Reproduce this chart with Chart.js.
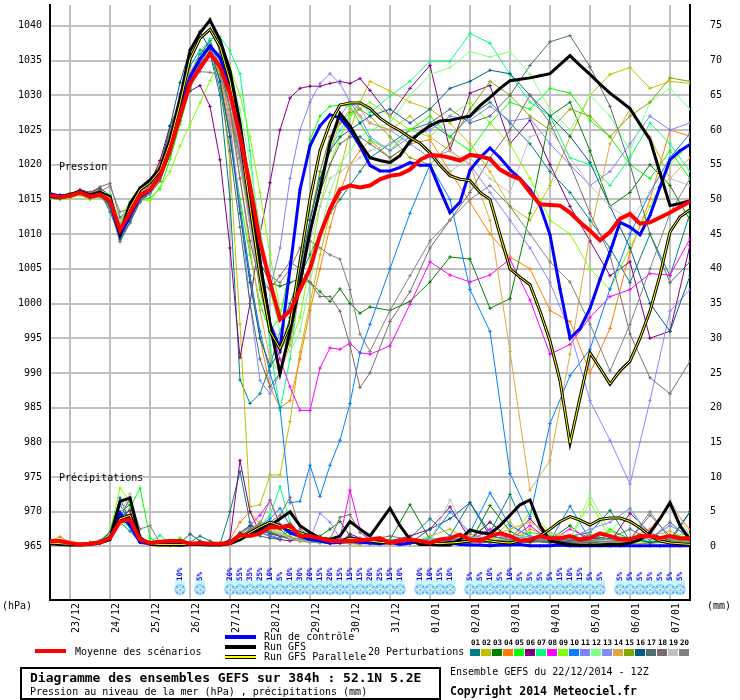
<!DOCTYPE html>
<html>
<head>
<meta charset="utf-8">
<script src="https://cdn.jsdelivr.net/npm/chart.js@4.4.1/dist/chart.umd.min.js"></script>
<style>
body { margin: 0; background: #fff; }
#wrap { position: relative; width: 740px; height: 700px; font-family: "DejaVu Sans Mono", monospace; font-size: 10px; color: #000; }
#wrap canvas { position: absolute; left: 0; top: 0; }
.t { position: absolute; white-space: pre; line-height: 12px; }
.bar { position: absolute; width: 31px; height: 4px; }
.num { position: absolute; top: 638px; width: 11px; text-align: center; font-size: 7.5px; font-weight: bold; line-height: 9px; }
.sw { position: absolute; top: 649px; width: 10px; height: 7px; }
#box { position: absolute; left: 20px; top: 667px; width: 421px; height: 33px; box-sizing: border-box; border: 2px solid #000; }
#warn { position: absolute; left: 300px; top: 300px; color: red; font-size: 14px; }
</style>
</head>
<body>
<div id="wrap">
  <canvas id="gefs" width="740" height="700"></canvas>
  <div class="t" style="left:59px;top:161px;">Pression</div>
  <div class="t" style="left:59px;top:472px;">Précipitations</div>
  <div class="t" style="left:2px;top:600px;">(hPa)</div>
  <div class="t" style="left:707px;top:600px;">(mm)</div>

  <div class="bar" style="left:35px;top:649px;background:#ff0000;"></div>
  <div class="t" style="left:75px;top:646px;">Moyenne des scénarios</div>
  <div class="bar" style="left:225px;top:635px;background:#0000ff;"></div>
  <div class="t" style="left:264px;top:631px;">Run de contrôle</div>
  <div class="bar" style="left:225px;top:645px;background:#000;"></div>
  <div class="t" style="left:264px;top:641px;">Run GFS</div>
  <div class="bar" style="left:225px;top:655px;background:#000;"><div style="position:absolute;left:0;top:1px;width:31px;height:2px;background:#ffff00;"></div></div>
  <div class="t" style="left:264px;top:651px;">Run GFS Parallele</div>
  <div class="t" style="left:368px;top:646px;">20 Perturbations</div>
  <div id="legendSwatches"></div>

  <div id="box"></div>
  <div class="t" style="left:30px;top:670px;font-size:13px;font-weight:bold;line-height:15px;">Diagramme des ensembles GEFS sur 384h : 52.1N 5.2E</div>
  <div class="t" style="left:30px;top:686px;">Pression au niveau de la mer (hPa) , précipitations (mm)</div>
  <div class="t" style="left:450px;top:666px;">Ensemble GEFS du 22/12/2014 - 12Z</div>
  <div class="t" style="left:450px;top:684px;font-size:11.5px;font-weight:bold;line-height:14px;">Copyright 2014 Meteociel.fr</div>
  <div id="warn"></div>
</div>
<script>
// time axis (hours after 22/12/2014 12Z)
const hours6 = [0,6,12,18,24,30,36,42,48,54,60,66,72,78,84,90,96,102,108,114,120,126,132,138,144,150,156,162,168,174,180,186,192,
  198,204,210,216,222,228,234,240,246,252,258,264,270,276,282,288,294,300,306,312,318,324,330,336,342,348,354,360,366,372,378,384];
const memberHours = [0,6,12,18,24,30,36,42,48,54,60,66,72,78,84,90,96,102,108,114,120,126,132,138,144,150,156,162,168,174,180,186,192,
  204,216,228,240,252,264,276,288,300,312,324,336,348,360,372,384];

const dateHours = [12,36,60,84,108,132,156,180,204,228,252,276,300,324,348,372];
const dateLabels = ['23/12','24/12','25/12','26/12','27/12','28/12','29/12','30/12','31/12','01/01','02/01','03/01','04/01','05/01','06/01','07/01'];
const pressureTicks = [965,970,975,980,985,990,995,1000,1005,1010,1015,1020,1025,1030,1035,1040];
const precipTicks = [0,5,10,15,20,25,30,35,40,45,50,55,60,65,70,75];
const yMin = 957.29, yMax = 1043.0, precipZero = 965;

// mean of scenarios
const meanPressure = [1015.6,1015.3,1015.5,1016.0,1015.4,1015.7,1014.8,1010.6,1013.1,1015.6,1016.4,1018.4,1022.1,1027.0,1031.7,1033.9,1036.0,
  1034.1,1030.3,1024.1,1017.0,1008.9,1003.1,997.7,998.9,1002.0,1005.0,1009.9,1013.6,1016.4,1017.0,1016.7,1017.0,
  1017.9,1018.4,1018.6,1019.3,1020.7,1021.4,1021.3,1021.0,1020.6,1021.4,1021.2,1020.8,1019.3,1018.5,1017.9,1016.0,1014.3,1014.2,1014.1,1013.1,1011.7,1010.5,1009.1,1010.3,1012.2,1012.9,1011.5,1011.7,1012.4,1013.1,1013.9,1014.7];
const meanPrecip = [0.8,0.8,0.5,0.3,0.4,0.6,1.2,3.6,3.9,1.0,0.5,0.7,0.8,0.8,0.4,0.5,0.4,
  0.4,0.5,1.7,1.5,1.9,2.8,2.7,3.1,1.5,1.5,1.2,0.8,0.8,0.8,0.9,1.0,
  1.2,0.5,0.8,1.0,0.8,0.5,1.0,1.2,1.7,1.0,0.8,1.5,1.9,1.5,0.8,1.0,1.5,1.2,1.2,1.5,1.0,1.2,1.9,1.5,1.0,1.0,1.5,1.5,1.2,1.5,1.2,1.2];

// control run
const ctrlPressure = [1015.8,1015.5,1015.6,1016.1,1015.5,1015.8,1014.6,1009.8,1012.6,1015.3,1016.3,1018.5,1022.6,1027.8,1032.6,1035.2,1037.1,
  1035.4,1031,1024.5,1015.5,1006,997,993.5,1005,1016.4,1022.7,1025.6,1027.2,1026.7,1025,1022.7,1019.9,
  1019.1,1019.1,1019.6,1020.3,1019.9,1019.9,1016.4,1013.1,1014.6,1019.2,1021,1022.4,1021,1019.3,1018,1016.4,1014.1,1009.9,1002.1,995,996.4,999.3,1003.5,1007.4,1011.7,1011,1009.9,1012.7,1016.8,1020.7,1022,1022.9];
const ctrlPrecip = [0.6,0.5,0.3,0.3,0.4,0.6,1.2,4.8,3.0,0.6,0.4,0.3,0.3,0.2,0.3,0.4,0.3,
  0.3,0.5,1.2,1.8,2.4,3.4,3.0,2.0,1.5,1.0,0.8,0.5,0.6,0.8,0.6,0.5,
  0.4,0.6,0.3,0.5,0.8,0.4,0.3,0.6,0.3,0.2,0.2,0.1,0.2,0.2,0.3,0.1,0.1,0.1,0.2,0.1,0.1,0.1,0.1,0.1,0.1,0.1,0.1,0.1,0.1,0.1,0.1,0.1];

// GFS operational run
const gfsPressure = [1015.4,1015.2,1015.6,1016.2,1015.6,1016.0,1015.4,1010.0,1014.4,1016.6,1017.8,1019.4,1023.6,1029.4,1036.4,1039.0,1040.8,
  1038,1033.5,1026,1016,1006,997,989.9,996,1003,1010.3,1016.4,1023.1,1027.4,1025.6,1023.1,1021,
  1020.6,1020.3,1021.3,1023.4,1024.6,1025.6,1026.3,1026.4,1026.7,1027,1028.5,1029.7,1031,1032.1,1032.3,1032.5,1032.8,1033.1,1034.4,1035.7,1034.3,1033,1031.6,1030.3,1029.2,1028.1,1025.8,1023.6,1018.8,1014.1,1014.4,1014.8];
const gfsPrecip = [0.4,0.3,0.2,0.2,0.3,0.5,1.0,6.5,7.0,1.2,0.3,0.2,0.2,0.2,0.3,0.3,0.2,
  0.2,0.4,1.0,1.8,2.2,3.0,4.0,5.0,3.0,2.0,1.2,1.0,1.5,3.6,2.5,1.5,
  3.5,5.5,3.0,1.0,0.3,0.3,0.2,0.2,1.0,2.4,2.0,1.8,3.0,4.5,6.0,6.7,3.0,0.8,0.5,0.3,0.2,0.2,0.2,0.3,0.3,0.5,1.0,2.0,4.0,6.3,3.0,1.0];

// GFS parallel run
const parPressure = [1015.5,1015.3,1015.7,1016.1,1015.5,1015.9,1015.2,1010.4,1013.8,1016.4,1017.4,1019.2,1023.2,1028.8,1035.2,1038.2,1039.5,
  1037,1032,1024,1014,1004,996,993.5,997,1006,1015,1022,1026,1028.6,1028.9,1028.9,1028.1,
  1026.7,1025.7,1024.9,1023.9,1023.1,1021.7,1019.9,1018.4,1017.9,1017.7,1016,1015,1009.9,1005,1003.8,1002.7,998.9,994.6,988.9,979.9,986.4,992.9,990.7,988.4,990.3,991.7,995,998.9,1004.1,1010.3,1012.5,1013.5];
const parPrecip = [0.5,0.4,0.3,0.3,0.4,0.6,1.3,4.0,4.5,1.0,0.4,0.3,0.3,0.3,0.3,0.3,0.3,
  0.3,0.6,1.2,2.0,2.8,3.5,3.0,2.5,2.0,1.5,1.2,1.0,0.8,1.2,1.0,0.8,
  0.6,0.5,0.8,1.0,0.6,0.5,0.4,0.5,0.6,0.8,1.0,0.8,0.6,0.5,0.8,0.8,1.5,2.5,3.6,4.3,3.8,3.1,3.9,4.1,4.1,3.6,2.7,1.5,0.8,0.5,0.4,0.3];

// 20 perturbations (pressure, hPa)
const p01 = [1015.2,1015.0,1015.6,1016.3,1015.8,1016.1,1013.2,1009.6,1012.4,1015.0,1016.0,1018.8,1023.5,1029.8,1034.2,1036.5,1036.0, 1030,1015,989,985.6,987,991,996,1000,1004,1007,1010,1013,1015,1017,1019,1021, 1023,1025,1026,1024,1027,1029,1026,1023,1019,1016,1012,1008,1003,1010,1004,1013];
const p02 = [1015.8,1015.6,1015.9,1016.2,1015.9,1016.4,1015.5,1011.4,1014.0,1016.3,1017.8,1019.9,1023.4,1028.0,1032.5,1035.3,1037.2, 1033,1020,997,970.7,971,975.3,975.3,983,993,1000,1007,1013,1019,1025,1029,1032, 1030.6,1029,1028,1026,1023,1019,1014,1012,1017,1024,1030,1033,1034,1031,1032,1031.7];
const p03 = [1015.4,1015.2,1015.4,1015.8,1015.1,1015.5,1014.1,1010.2,1012.8,1015.3,1016.1,1018.0,1022.5,1027.8,1032.8,1035.8,1037.9, 1034,1028,1020,1012,1006,1003,1002.5,1003,1003.6,1003.1,1001.7,1000.3,1002.1,1000,998.6,999.5, 999,1000.3,1003.1,1006.7,1006.4,999.3,1000.7,1013,1027,1029,1022,1014,1016,1020,1017,1012];
const p04 = [1015.7,1015.5,1015.8,1016.1,1015.6,1016.0,1015.2,1011.0,1013.6,1016.2,1017.6,1020.4,1024.8,1029.0,1033.0,1035.0,1036.4, 1033,1025,1014,1004,995,988,985,986,992,999,1005,1011,1016,1020,1022,1023.5, 1021,1023,1023.6,1019,1014.6,1010,1006.7,1005,999,997.4,990,996.4,1007.4,1015,1025,1024.1];
const p05 = [1015.3,1015.1,1015.4,1015.9,1015.2,1015.6,1014.6,1009.9,1012.5,1014.8,1015.2,1016.5,1020.8,1025.8,1030.9,1034.6,1037.5, 1032,1024,1015,1007,1000,996,998,1005,1016,1023.6,1027,1028.4,1028.6,1028.4,1026,1023.6, 1022,1025,1027,1024,1022,1026,1029,1028,1031,1030.3,1026.4,1024,1020,1018,1022,1018];
const p06 = [1015.9,1015.6,1015.7,1016.4,1016.0,1016.6,1015.6,1010.8,1013.4,1016.0,1017.2,1020.6,1025.6,1028.8,1030.6,1031.4,1028.4, 1020.7,1008,992.2,1000,1010,1017.4,1025,1029.6,1031,1031.3,1031.3,1031.7,1032,1031.7,1032.4,1030.7, 1027,1031,1034.3,1022.1,1030.3,1031.4,1023,1026.4,1020,1014,1009,1004,1006,995,996,1008.4];
const p07 = [1015.5,1015.4,1015.7,1016.2,1015.5,1015.9,1015.0,1011.6,1014.2,1016.5,1017.3,1019.4,1023.0,1028.2,1032.9,1036.2,1038.1, 1038.4,1036.4,1033.1,1022,1008,994,984.6,992,1003,1012,1018,1022,1025,1027,1029,1027.5, 1029.9,1032,1034.9,1034.9,1038.9,1037.5,1033,1029,1027,1021,1020,1017,1021,1026,1023,1019];
const p08 = [1015.6,1015.2,1015.5,1016.1,1015.3,1015.8,1014.7,1010.5,1013.0,1015.5,1016.6,1018.6,1022.6,1027.5,1032.0,1034.7,1036.8, 1034,1029,1021,1012,1004,997,992,988,984.6,984.6,990.7,993.6,993.4,994.3,992.9,992.7, 993.9,999.9,1006,1004.1,1003.1,1004.1,1006.4,1000.5,992.7,994.1,998,1001,1002,1004.3,1004.1,1009.3];
const p09 = [1015.2,1015.0,1015.2,1015.6,1015.0,1015.4,1015.4,1012.2,1014.7,1015.0,1014.8,1016.8,1019.0,1022.7,1025.8,1028.9,1032.1, 1035,1034,1030,1024,1016,1007,999,994,998,1006,1014,1020,1024,1027,1028,1029, 1027,1025,1024,1027,1029,1026,1023,1018,1012,1010,1005,1002,1008,1014,1020,1023];
const p10 = [1015.8,1015.5,1015.6,1016.0,1015.6,1015.9,1014.9,1010.1,1012.6,1015.4,1016.5,1018.9,1023.3,1028.6,1033.2,1035.9,1037.2, 1032,1024,1014,1004,996,990,985,971.3,971.5,976.7,972.2,976.7,980.3,985.6,992.9,997, 1005,1013,1020,1015,1002,996,975.5,969.3,982.7,989.6,993.4,1002.1,1010,1016,1021,1024.5];
const p11 = [1015.4,1015.3,1015.5,1015.9,1015.3,1015.6,1014.3,1009.8,1012.2,1015.1,1016.2,1018.0,1021.8,1026.8,1031.6,1034.8,1036.6, 1036,1031,1022,1012,1004,1002,1008,1018,1025,1029,1031.7,1033.1,1031.7,1029,1027,1024, 1022,1024,1025,1027,1026.4,1028.4,1026.3,1026.7,1023,1020,1017,1019,1023,1027,1025,1026];
const p12 = [1015.7,1015.4,1015.8,1016.3,1015.7,1016.2,1015.8,1012.0,1014.4,1016.8,1017.5,1019.0,1022.2,1027.0,1031.0,1034.0,1036.8, 1036,1033,1028,1020,1011,1002,996,993,996,1003,1010,1016,1020,1022,1024,1025, 1026,1030,1033,1034,1036.3,1035.5,1036.3,1033,1028,1025,1030,1027,1022,1029,1031,1028];
const p13 = [1015.5,1015.3,1015.6,1016.0,1015.4,1015.8,1014.6,1010.3,1012.9,1015.7,1016.8,1018.7,1022.9,1027.6,1032.4,1035.4,1037.5, 1034,1026,1014,1000,988.9,987,990,996,1004,1012,1019,1024,1027,1029,1028,1026, 1025,1023,1021,1022,1020,1016,1012,1008,1003,996,986,980.3,974,986,998.9,1002];
const p14 = [1015.6,1015.4,1015.7,1016.1,1015.5,1015.9,1015.1,1011.2,1013.8,1016.1,1017.0,1019.4,1023.8,1028.8,1033.4,1035.6,1036.3, 1033,1027,1018,1008,999,992,990,994,1002,1010,1017,1022,1026,1028,1027,1026, 1025,1027,1024,1022,1020,1012,993.1,973.1,977.4,992.7,1010,1023,1028,1024,1018,1021];
const p15 = [1015.3,1015.1,1015.3,1015.7,1015.1,1015.4,1014.2,1009.6,1012.1,1014.9,1016.0,1017.8,1021.4,1026.2,1031.0,1034.3,1035.8, 1035,1030,1021,1011,1002,996,993,996,1003,1012,1019,1024,1026,1027.5,1028,1027, 1024,1021,1020,1023,1028,1032,1030,1027,1025,1028,1027,1024,1027,1029,1032.5,1032];
const p16 = [1015.8,1015.6,1015.8,1016.2,1015.8,1016.3,1014.0,1009.2,1011.8,1014.6,1016.1,1019.5,1025.5,1031.8,1036.6,1039.2,1036.6, 1032,1024,1013,1003,995,991,993,998,1005,1012,1018,1022,1024,1025,1026,1027, 1028,1026,1028,1031,1032,1033.6,1033.1,1030,1027,1024.1,1020.3,1014,1008,1000,996,1004];
const p17 = [1015.4,1015.2,1015.4,1015.8,1015.2,1015.5,1013.8,1008.9,1011.6,1014.7,1015.8,1017.6,1021.6,1026.4,1031.2,1034.6,1036.2, 1031,1022,1011,1000,992,988,990,995,1002,1010,1016,1020,1023,1024,1024,1023, 1021,1023,1026,1028,1026,1027,1030,1034.3,1037.7,1038.6,1034.1,1028.4,1020,1010,1003,1006];
const p18 = [1015.7,1015.5,1015.8,1016.3,1016.0,1016.8,1017.3,1012.4,1013.4,1015.8,1017.0,1019.6,1024.6,1030.2,1035.0,1039.0,1041.0, 1036,1028,1018,1009,1003,1002,1004,1006,1005,1003,1001,1001,998.9,994,987.9,990, 997.4,1001.7,1008,1012,1016,1021,1025,1030,1026,1020,1013,1007,995.6,989.3,987,991.7];
const p19 = [1015.5,1015.3,1015.6,1016.0,1015.4,1015.7,1014.9,1011.8,1014.6,1016.4,1017.2,1019.2,1023.0,1027.8,1032.2,1035.2,1036.9, 1035,1029,1020,1011,1003,997,995,997,1003,1009,1014,1018,1019,1020,1021,1022, 1023,1024,1022,1019,1021,1018,1016,1024,1025,1021,1017,1014,1012,1016,1018,1017];
const p20 = [1015.6,1015.4,1015.6,1016.2,1015.6,1016.1,1016.9,1013.2,1013.6,1014.8,1016.0,1018.1,1022.4,1027.9,1033.0,1033.4,1033.3, 1033,1028,1021,1013,1007,1004,1003,1005,1008,1009,1008,1007,1006.4,1002,995.6,993.1, 999,1004,1009,1012,1015,1017,1014,1010,1006,1003.1,997,990.3,997,1005,1013,1018];

// 20 perturbations (precipitation, mm)
const r01 = [0.6,0.5,0.3,0.2,0.5,0.8,1.5,3.5,2.2,0.6,0.3,0.5,0.8,0.3,0.6,1.5,0.8,0.3,5.0,10.8,3.5,1.5,1.2,1.0,2.5,1.8,1.0,0.6,0.4,0.8,1.5,1.0,0.8, 0.5,1.2,4.0,1.5,6.3,2.0,7.5,1.0,0.6,1.5,2.0,5.2,0.8,1.2,0.6,5.0];
const r02 = [0.5,0.4,0.2,0.3,0.4,0.6,2.0,4.5,3.0,0.8,0.4,0.2,0.1,0.2,0.3,0.5,0.4,0.2,0.6,1.8,3.0,2.5,2.0,1.5,1.0,0.8,0.6,0.9,1.2,0.6,0.4,0.3,0.5, 0.8,0.4,1.5,2.5,0.8,1.0,3.5,0.5,1.0,0.6,1.8,0.9,0.5,1.5,2.2,0.8];
const r03 = [0.4,0.3,0.2,0.2,0.4,0.5,1.6,5.0,6.0,1.2,0.5,0.3,0.2,0.2,0.3,0.4,0.3,0.4,0.8,1.5,2.0,3.5,2.8,2.5,1.2,1.0,0.8,1.5,2.5,3.6,1.5,0.8,0.6, 1.0,6.0,1.0,0.7,0.5,5.9,2.2,0.8,1.0,3.0,0.6,0.4,0.8,1.2,0.5,0.4];
const r04 = [0.8,1.4,0.6,0.3,0.4,0.5,1.2,3.2,4.6,1.0,0.5,0.6,0.4,0.3,0.4,0.6,0.5,0.4,1.0,3.5,5.0,3.2,2.0,1.5,1.0,0.8,1.2,0.9,0.6,0.5,0.8,1.0,0.4, 0.6,0.8,0.5,1.2,1.8,1.0,0.6,2.5,1.5,0.8,1.0,2.2,1.2,2.5,6.0,2.4];
const r05 = [0.6,0.4,0.3,0.4,0.6,0.8,1.8,4.0,5.5,8.4,1.2,0.6,0.5,1.2,0.4,0.3,0.3,0.5,0.6,1.2,2.5,3.0,2.0,1.6,1.2,0.9,1.5,1.0,0.6,0.5,0.7,0.5,0.6, 1.0,0.5,0.8,0.6,1.2,3.5,0.8,2.0,1.6,1.0,0.5,2.5,1.0,0.6,1.5,1.8];
const r06 = [0.5,0.3,0.2,0.3,0.5,0.7,1.4,4.2,5.2,1.0,0.4,0.3,0.4,0.5,0.3,0.5,0.4,0.3,1.0,12.4,5.0,2.0,1.5,1.0,0.8,1.2,2.0,1.0,0.6,0.5,1.8,1.2,0.6, 0.8,1.5,2.5,5.7,1.0,3.5,1.2,4.0,0.8,1.0,1.5,0.6,4.8,2.0,0.8,1.5];
const r07 = [0.7,0.5,0.4,0.3,0.5,0.6,1.5,3.8,2.8,0.9,0.6,1.6,0.5,0.4,0.3,0.4,0.3,0.2,0.4,1.0,2.2,3.0,4.5,8.6,3.5,1.5,1.0,0.8,0.5,0.6,0.9,0.7,0.5, 0.6,0.8,1.2,1.0,0.7,1.5,0.9,0.6,1.5,1.2,0.8,1.2,0.6,1.0,0.8,0.7];
const r08 = [0.5,0.4,0.3,0.3,0.4,0.6,1.3,3.6,4.2,1.0,0.5,0.4,0.3,0.3,0.3,0.4,0.3,0.3,0.6,1.5,3.0,4.5,6.6,3.2,2.0,1.5,1.2,0.8,0.6,1.2,8.1,2.5,0.9, 0.8,1.0,0.6,1.2,0.8,2.5,1.0,3.0,0.8,2.5,1.2,0.6,1.0,0.5,0.8,0.6];
const r09 = [0.6,0.5,0.3,0.4,0.6,0.9,2.2,8.4,6.5,1.5,0.6,0.4,0.3,0.2,0.3,0.4,0.3,0.3,0.5,0.9,1.5,2.2,2.8,2.0,1.5,1.0,0.8,0.6,0.5,0.4,0.6,0.8,0.5, 0.4,0.6,0.5,0.8,1.0,1.2,0.8,5.0,2.0,1.0,6.4,1.2,0.8,0.6,1.0,0.8];
const r10 = [0.5,0.4,0.3,0.3,0.5,0.7,2.0,6.0,3.5,0.8,0.4,0.3,0.2,0.3,0.4,0.3,0.3,0.3,0.5,1.2,2.0,3.0,4.0,5.5,3.0,2.0,1.5,1.0,0.8,0.6,0.5,0.6,0.8, 0.6,0.8,1.0,5.0,2.0,7.7,3.0,1.5,0.8,5.8,1.0,0.8,1.2,0.6,0.5,0.4];
const r11 = [0.6,0.4,0.3,0.3,0.5,0.8,1.6,4.4,3.6,0.9,0.5,0.3,0.3,0.4,0.3,0.4,0.5,0.3,0.8,1.6,2.8,2.0,1.6,1.2,3.2,1.5,1.0,0.7,0.5,0.6,0.4,0.5,0.4, 0.5,0.7,0.9,0.6,0.5,0.8,1.2,1.0,0.6,0.8,1.5,1.0,0.8,1.2,3.0,1.5];
const r12 = [0.5,0.4,0.3,0.3,0.5,0.7,1.5,3.2,3.8,1.0,0.5,0.4,0.3,0.3,0.4,0.5,0.4,0.4,0.7,1.4,2.2,3.6,2.4,1.8,1.2,0.9,0.7,0.6,0.5,0.6,0.8,0.7,0.5, 0.7,0.9,0.6,1.0,1.4,0.8,1.6,1.2,2.0,1.0,7.4,2.0,5.5,1.0,0.8,0.6];
const r13 = [0.6,0.5,0.3,0.3,0.4,0.6,1.4,4.8,3.2,0.8,0.4,0.3,0.3,0.3,0.3,0.4,0.3,0.3,0.6,1.2,2.6,3.4,2.2,1.6,1.0,1.2,1.0,4.8,3.5,1.2,0.6,0.5,0.4, 0.6,0.5,1.0,0.8,1.2,2.0,1.0,1.5,0.8,1.2,2.5,3.5,5.5,1.5,1.0,0.8];
const r14 = [0.5,0.4,0.3,0.3,0.5,0.7,1.6,3.6,4.4,1.2,0.5,0.3,0.3,0.4,0.3,0.4,0.3,0.3,0.6,1.5,2.5,3.5,2.6,1.8,1.4,1.0,0.8,0.6,0.5,0.5,0.7,1.2,0.5, 0.5,0.6,0.8,1.0,0.8,1.5,2.5,3.5,2.0,1.0,0.8,0.6,1.2,1.0,0.8,1.5];
const r15 = [0.5,0.4,0.3,0.3,0.5,0.6,1.5,4.0,3.0,0.9,0.4,0.3,0.3,0.3,0.3,0.4,0.3,0.3,0.5,1.3,2.4,3.0,2.2,1.6,1.2,0.8,0.6,0.5,0.8,0.6,0.5,0.4,0.6, 0.4,0.5,0.6,0.8,0.5,0.7,1.0,0.8,0.6,0.5,1.0,0.6,0.5,0.4,0.8,0.6];
const r16 = [0.6,0.5,0.3,0.3,0.5,0.8,2.0,7.0,3.5,0.8,0.4,0.3,0.3,0.5,1.8,0.8,0.4,0.3,0.8,2.0,3.0,2.4,1.8,1.5,1.2,0.9,0.7,0.6,0.5,0.6,0.8,0.6,0.5, 0.6,0.5,2.5,4.0,6.3,1.5,1.0,0.8,0.6,0.8,1.0,1.5,1.2,0.6,1.0,5.0];
const r17 = [0.5,0.4,0.3,0.3,0.4,0.6,1.4,3.8,3.2,0.9,0.4,0.3,0.3,0.3,0.3,0.4,0.3,0.3,0.6,1.4,2.4,2.8,2.0,1.6,1.2,1.0,0.8,0.7,0.6,0.5,0.6,0.5,0.4, 0.5,0.8,0.6,1.0,0.8,0.5,0.6,0.8,0.5,0.6,0.8,1.2,2.5,1.0,3.5,1.0];
const r18 = [0.5,0.4,0.3,0.3,0.4,0.6,1.6,4.0,7.1,1.5,0.5,0.3,0.3,0.3,0.3,0.4,0.3,0.3,0.6,1.2,2.0,2.6,3.5,4.5,7.1,2.5,1.5,1.2,1.0,4.2,4.6,2.0,1.0, 1.5,1.0,0.8,1.0,1.2,0.8,1.0,0.6,0.8,0.5,0.6,0.8,1.0,4.5,1.5,0.8];
const r19 = [0.5,0.4,0.3,0.3,0.4,0.6,1.8,4.6,7.6,1.2,0.5,0.3,0.3,0.3,0.3,0.4,0.3,0.3,0.5,1.2,2.2,3.0,2.6,1.8,1.2,0.9,0.7,0.6,0.5,0.6,0.7,0.5,0.4, 0.6,0.5,0.8,6.7,1.0,0.8,1.2,1.0,2.0,1.5,1.0,0.8,0.6,1.2,6.8,1.5];
const r20 = [0.5,0.4,0.3,0.3,0.4,0.6,1.5,4.2,6.8,2.5,3.0,0.5,0.3,0.3,0.3,0.4,0.3,0.3,0.5,1.2,2.4,3.2,6.7,3.0,1.8,1.2,1.0,0.8,0.6,0.5,0.7,0.6,0.5, 0.5,0.7,0.6,0.8,1.0,1.5,1.0,0.8,1.2,1.0,0.8,0.6,1.0,5.0,1.0,0.8];

const memberNames = ['01','02','03','04','05','06','07','08','09','10','11','12','13','14','15','16','17','18','19','20'];
const memberColors = ['#008080','#c0c000','#008000','#ff8000','#00ff00','#800080','#00ff80','#ff00ff','#80ff00','#0080ff',
  '#8080ff','#80ff80','#8888ff','#e0a840','#80a800','#006080','#507070','#806870','#c0c0c0','#808080'];
const memberPressure = [p01,p02,p03,p04,p05,p06,p07,p08,p09,p10,p11,p12,p13,p14,p15,p16,p17,p18,p19,p20];
const memberPrecip = [r01,r02,r03,r04,r05,r06,r07,r08,r09,r10,r11,r12,r13,r14,r15,r16,r17,r18,r19,r20];

// snow probability per 6h step
const snowHours = [78,90, 108,114,120,126,132,138,144,150,156,162,168,174,180,186,192,198,204,210, 222,228,234,240,
  252,258,264,270,276,282,288,294,300,306,312,318,324,330, 342,348,354,360,366,372,378];
const snowPct = [10,5, 20,55,35,25,10,5,10,30,20,15,20,15,15,15,20,25,15,10, 10,10,15,10,
  5,5,10,5,10,5,5,5,5,15,10,15,5,5, 5,5,5,5,5,5,5];

// sanity check on array lengths
const bad = [];
[meanPressure, meanPrecip, ctrlPressure, ctrlPrecip, gfsPressure, gfsPrecip, parPressure, parPrecip].forEach((a, i) => { if (a.length !== hours6.length) bad.push('main' + i + ':' + a.length); });
memberPressure.forEach((a, i) => { if (a.length !== memberHours.length) bad.push('p' + (i + 1) + ':' + a.length); });
memberPrecip.forEach((a, i) => { if (a.length !== memberHours.length) bad.push('r' + (i + 1) + ':' + a.length); });
if (snowHours.length !== snowPct.length) bad.push('snow');
document.getElementById('warn').textContent = bad.join(' ');

// legend swatches
const legendBox = document.getElementById('legendSwatches');
memberColors.forEach((c, i) => {
    const n = document.createElement('div');
    n.className = 'num';
    n.style.left = (470 + i * 11) + 'px';
    n.textContent = memberNames[i];
    legendBox.appendChild(n);
    const s = document.createElement('div');
    s.className = 'sw';
    s.style.left = (470 + i * 11) + 'px';
    s.style.background = c;
    legendBox.appendChild(s);
});

function toPoints(hrs, vals) {
    return vals.map((v, i) => ({ x: hrs[i], y: v }));
}

const datasets = [];
memberPressure.forEach((vals, i) => {
    const common = { borderColor: memberColors[i], borderWidth: 1, pointStyle: 'cross', pointRadius: 1.8,
        pointBorderColor: memberColors[i], pointBorderWidth: 1, order: 30 - i };
    datasets.push(Object.assign({ data: toPoints(memberHours, vals), yAxisID: 'y' }, common));
    datasets.push(Object.assign({ data: toPoints(memberHours, memberPrecip[i]), yAxisID: 'y2' }, common));
});
[['y', ctrlPressure], ['y2', ctrlPrecip]].forEach(([ax, vals]) => {
    datasets.push({ data: toPoints(hours6, vals), yAxisID: ax, borderColor: '#0000ff', borderWidth: 3,
        pointStyle: 'cross', pointRadius: 1.8, pointBorderColor: '#0000ff', pointBorderWidth: 1, order: 4 });
});
[['y', gfsPressure], ['y2', gfsPrecip]].forEach(([ax, vals]) => {
    datasets.push({ data: toPoints(hours6, vals), yAxisID: ax, borderColor: '#000000', borderWidth: 3, pointRadius: 0, order: 3 });
});
[['y', parPressure], ['y2', parPrecip]].forEach(([ax, vals]) => {
    datasets.push({ data: toPoints(hours6, vals), yAxisID: ax, borderColor: '#000000', borderWidth: 3, pointRadius: 0, order: 2 });
    datasets.push({ data: toPoints(hours6, vals), yAxisID: ax, borderColor: '#ffff00', borderWidth: 1, pointRadius: 0, order: 1 });
});
[['y', meanPressure], ['y2', meanPrecip]].forEach(([ax, vals]) => {
    datasets.push({ data: toPoints(hours6, vals), yAxisID: ax, borderColor: '#ff0000', borderWidth: 4, pointRadius: 0, order: 0 });
});

// snowflake icons + percentages along the bottom of the plot
const snowPlugin = {
    id: 'snowRow',
    afterDatasetsDraw(chart) {
        const ctx = chart.ctx;
        const xs = chart.scales.x;
        const base = chart.chartArea.bottom;
        ctx.save();
        ctx.fillStyle = '#c8fbff';
        snowHours.forEach(h => {
            const x = xs.getPixelForValue(h);
            ctx.fillRect(x - 5, base - 20, 10, 5);
        });
        snowHours.forEach((h, i) => {
            const x = xs.getPixelForValue(h);
            const cy = base - 10.5;
            ctx.beginPath();
            ctx.arc(x, cy, 5.8, 0, Math.PI * 2);
            ctx.fillStyle = '#9ad6f6';
            ctx.fill();
            ctx.strokeStyle = '#f2fbff';
            ctx.lineWidth = 1;
            for (let k = 0; k < 3; k++) {
                const a = k * Math.PI / 3;
                ctx.beginPath();
                ctx.moveTo(x - 4 * Math.cos(a), cy - 4 * Math.sin(a));
                ctx.lineTo(x + 4 * Math.cos(a), cy + 4 * Math.sin(a));
                ctx.stroke();
            }
            ctx.fillStyle = '#3f9fe6';
            [[-3, -3], [3, -3], [-3, 3], [3, 3], [0, 0]].forEach(([dx, dy]) => ctx.fillRect(x + dx - 0.5, cy + dy - 0.5, 1.5, 1.5));
            ctx.save();
            ctx.translate(x, base - 19);
            ctx.rotate(-Math.PI / 2);
            ctx.fillStyle = '#0000ff';
            ctx.font = 'bold 7.5px "DejaVu Sans Mono"';
            ctx.textAlign = 'left';
            ctx.textBaseline = 'middle';
            ctx.fillText(snowPct[i] + '%', 0, 0);
            ctx.restore();
        });
        ctx.restore();
    }
};

const tickFont = { family: 'DejaVu Sans Mono', size: 10 };
function noPad(s) {
    s.paddingTop = 0; s.paddingBottom = 0; s.paddingLeft = 0; s.paddingRight = 0;
}

new Chart(document.getElementById('gefs').getContext('2d'), {
    type: 'line',
    data: { datasets: datasets },
    options: {
        responsive: false,
        animation: false,
        devicePixelRatio: 1,
        layout: { padding: { top: 0, bottom: 60, left: 0, right: 0 } },
        elements: { line: { tension: 0 } },
        plugins: { legend: { display: false }, tooltip: { enabled: false } },
        scales: {
            x: {
                type: 'linear', min: 0, max: 384,
                afterBuildTicks: s => { s.ticks = dateHours.map(v => ({ value: v })); },
                afterFit: s => { s.height = 40; noPad(s); },
                ticks: { autoSkip: false, minRotation: 90, maxRotation: 90, padding: 3, labelOffset: 6,
                    font: tickFont, color: '#000', callback: v => dateLabels[dateHours.indexOf(v)] },
                grid: { color: '#c0c0c0', lineWidth: 2, drawTicks: false },
                border: { color: '#000', width: 2 }
            },
            y: {
                position: 'left', min: yMin, max: yMax,
                afterBuildTicks: s => { s.ticks = pressureTicks.map(v => ({ value: v })); },
                afterFit: s => { s.width = 50; noPad(s); },
                ticks: { padding: 8, font: tickFont, color: '#000', callback: v => String(v) },
                grid: { color: '#c0c0c0', lineWidth: 2, drawTicks: false },
                border: { color: '#000', width: 2 }
            },
            y2: {
                position: 'right', min: yMin - precipZero, max: yMax - precipZero,
                afterBuildTicks: s => { s.ticks = precipTicks.map(v => ({ value: v })); },
                afterFit: s => { s.width = 50; noPad(s); },
                ticks: { padding: 20, font: tickFont, color: '#000', callback: v => String(v) },
                grid: { display: false, drawTicks: false },
                border: { color: '#000', width: 2 }
            }
        }
    },
    plugins: [snowPlugin]
});
</script>
</body>
</html>
